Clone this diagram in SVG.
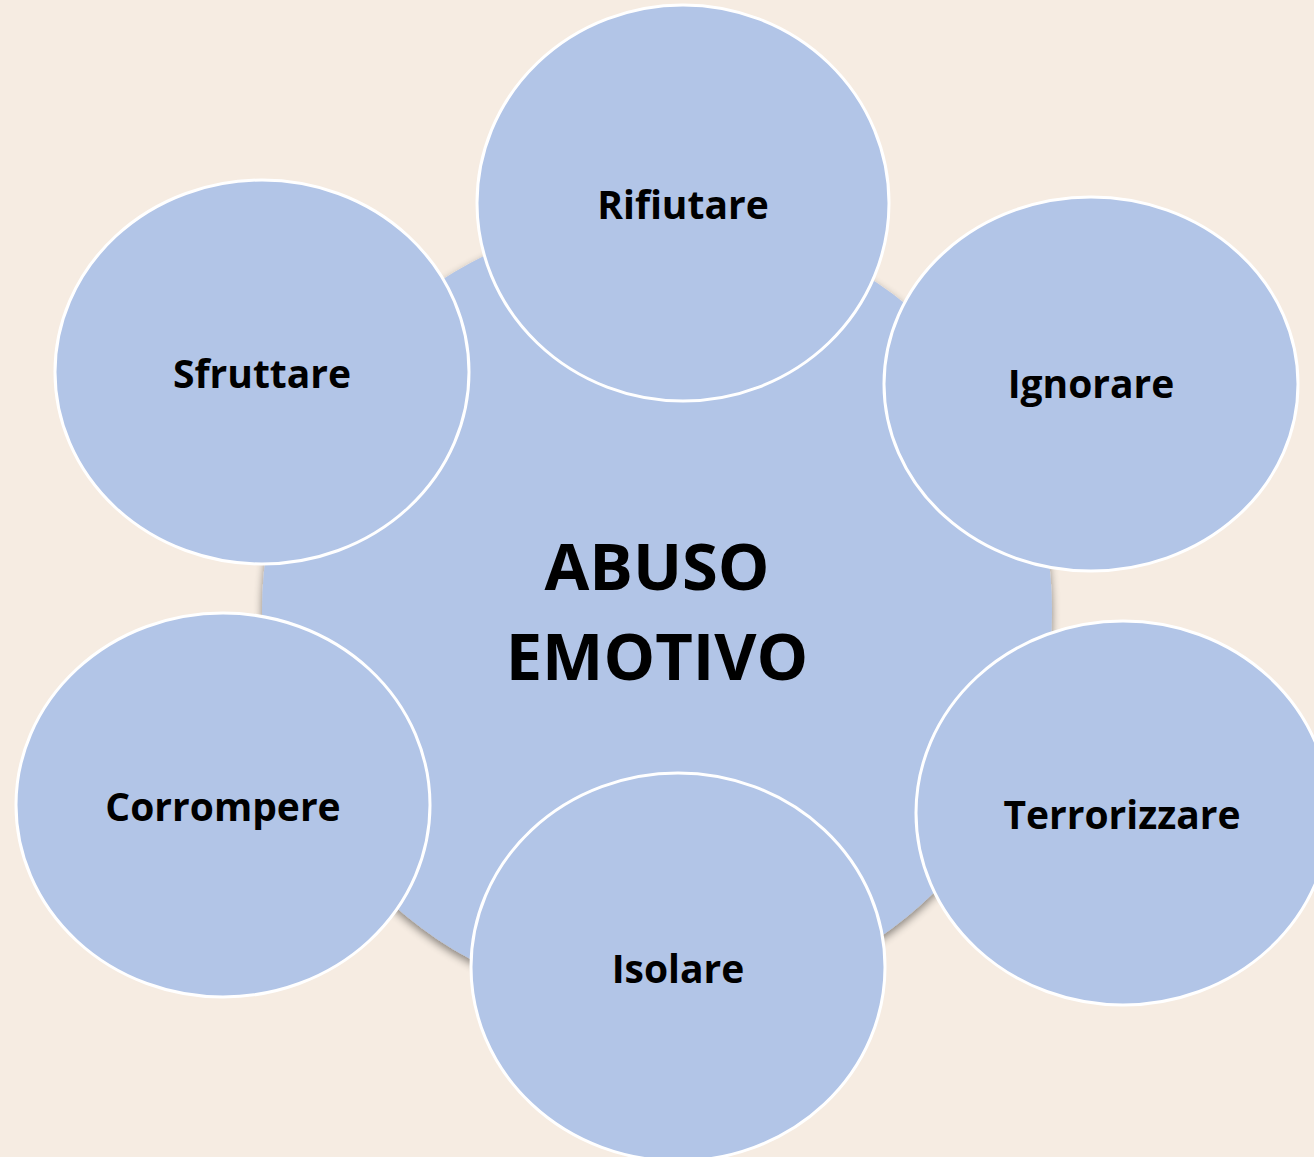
<svg xmlns="http://www.w3.org/2000/svg" width="1314" height="1157" viewBox="0 0 1314 1157">
<style>
.bg{fill:#F6ECE2}
.hub{fill:#B2C5E7}
.sat{fill:#B2C5E7;stroke:#FFFFFF;stroke-width:3}
.lbl{font-family:"Open Sans","Liberation Sans",sans-serif;font-weight:bold;font-size:39px;fill:#000;text-anchor:middle}
.big{font-family:"Open Sans","Liberation Sans",sans-serif;font-weight:bold;font-size:65px;fill:#000;text-anchor:middle}
</style>
<defs>
<filter id="sh" x="-10%" y="-10%" width="120%" height="125%">
<feGaussianBlur in="SourceAlpha" stdDeviation="4"/>
<feOffset dx="0" dy="4" result="b"/>
<feComponentTransfer><feFuncA type="linear" slope="0.45"/></feComponentTransfer>
<feMerge><feMergeNode/><feMergeNode in="SourceGraphic"/></feMerge>
</filter>
</defs>
<rect class="bg" x="0" y="0" width="1314" height="1157"/>
<g id="connectors"></g>
<g id="hub">
<circle class="hub" cx="657" cy="611" r="395" filter="url(#sh)"/>
<text class="big" x="657" y="590">ABUSO</text>
<text class="big" x="657" y="680">EMOTIVO</text>
</g>
<g id="rifiutare">
<ellipse class="sat" cx="683" cy="203" rx="206" ry="198"/>
<text class="lbl" x="683" y="219">Rifiutare</text>
</g>
<g id="ignorare">
<ellipse class="sat" cx="1091" cy="384" rx="207" ry="187"/>
<text class="lbl" x="1091" y="398">Ignorare</text>
</g>
<g id="terrorizzare">
<ellipse class="sat" cx="1123" cy="813" rx="207" ry="192"/>
<text class="lbl" x="1122" y="829">Terrorizzare</text>
</g>
<g id="isolare">
<ellipse class="sat" cx="678" cy="967" rx="207" ry="194"/>
<text class="lbl" x="678" y="983">Isolare</text>
</g>
<g id="corrompere">
<ellipse class="sat" cx="223" cy="805" rx="207" ry="192"/>
<text class="lbl" x="223" y="821">Corrompere</text>
</g>
<g id="sfruttare">
<ellipse class="sat" cx="262" cy="372" rx="207" ry="192"/>
<text class="lbl" x="262" y="388">Sfruttare</text>
</g>
</svg>
